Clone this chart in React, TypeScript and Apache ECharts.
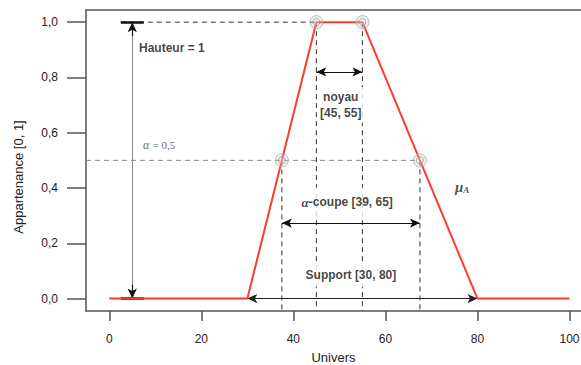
import React, { useEffect, useRef } from "react";
import * as echarts from "echarts";

// ---- data ----
const xTicks = [0, 20, 40, 60, 80, 100];
const yTicks = [0, 0.2, 0.4, 0.6, 0.8, 1.0];
const universX = [0, 30, 45, 55, 80, 100];
const membershipY = [0, 0, 1, 1, 0, 0];
const alphaLevel = 0.5;
const alphaCutX = [37.5, 67.5];
const coreX = [45, 55];
const supportX = [30, 80];
const heightX = 5;
const heightBarX = [2.5, 7.5];
const coreArrowY = 0.82;
const alphaArrowY = 0.273;
const supportArrowY = 0;

const X_MIN = -5.06;
const X_MAX = 102.5;
const Y_MIN = -0.045;
const Y_MAX = 1.044;

const SANS = "'Liberation Sans', Arial, Helvetica, sans-serif";
const SERIF = "'Liberation Serif', 'Times New Roman', serif";

function dashed(name: string, pts: number[][], color: string) {
  return {
    name,
    type: "line",
    data: pts,
    symbol: "none",
    silent: true,
    z: 3,
    lineStyle: { color, width: 1, type: [5, 4] },
  };
}

function arrow(x1: number, y1: number, x2: number, y2: number, color: string, s1 = "arrow", s2 = "arrow") {
  return [
    { coord: [x1, y1], symbol: s1, lineStyle: { color, width: 1.2, type: "solid" }, itemStyle: { color } },
    { coord: [x2, y2], symbol: s2 },
  ];
}

export default function App() {
  const ref = useRef<HTMLDivElement>(null);
  useEffect(() => {
    if (!ref.current) return;
    const chart = echarts.init(ref.current, null, { renderer: "svg" });
    const labelBase = {
      show: true,
      color: "#111",
      fontFamily: SANS,
      fontWeight: "bold",
      fontSize: 12,
    };
    const option: any = {
      animation: false,
      grid: { left: 86, top: 10, right: 0, bottom: 54, containLabel: false, outerBoundsMode: "none" },
      xAxis: [
        {
          type: "value",
          min: X_MIN,
          max: X_MAX,
          name: "Univers",
          nameLocation: "middle",
          nameGap: 40,
          nameTextStyle: { fontFamily: SANS, fontSize: 13, color: "#222" },
          axisLine: { show: true, onZero: false, lineStyle: { color: "#555", width: 1.5 } },
          axisTick: { show: true, length: 10, customValues: xTicks, lineStyle: { color: "#555", width: 1.5 } },
          axisLabel: { customValues: xTicks, margin: 22, fontFamily: SANS, fontSize: 12, color: "#222" },
          splitLine: { show: false },
        },
        {
          type: "value",
          position: "top",
          min: X_MIN,
          max: X_MAX,
          axisLine: { show: true, onZero: false, lineStyle: { color: "#555", width: 1.5 } },
          axisTick: { show: false },
          axisLabel: { show: false },
          splitLine: { show: false },
        },
      ],
      yAxis: {
        type: "value",
        min: Y_MIN,
        max: Y_MAX,
        axisLine: { show: true, onZero: false, lineStyle: { color: "#555", width: 1.5 } },
        axisTick: { show: true, length: 19, customValues: yTicks, lineStyle: { color: "#555", width: 1.5 } },
        axisLabel: {
          customValues: yTicks,
          margin: 28,
          fontFamily: SANS,
          fontSize: 12,
          color: "#222",
          formatter: (v: number) => v.toFixed(1).replace(".", ","),
        },
        splitLine: { show: false },
      },
      graphic: [
        {
          type: "text",
          x: 18,
          y: 177,
          rotation: Math.PI / 2,
          style: {
            text: "Appartenance [0, 1]",
            fontFamily: SANS,
            fontSize: 13,
            fill: "#222",
            align: "center",
            verticalAlign: "middle",
          },
        },
      ],
      series: [
        dashed("alpha-level", [[X_MIN, alphaLevel], [alphaCutX[1], alphaLevel]], "#888"),
        dashed("height-level", [[heightBarX[0], 1], [coreX[0], 1]], "#333"),
        dashed("core-left", [[coreX[0], 1], [coreX[0], Y_MIN]], "#333"),
        dashed("core-right", [[coreX[1], 1], [coreX[1], Y_MIN]], "#333"),
        dashed("cut-left", [[alphaCutX[0], alphaLevel], [alphaCutX[0], Y_MIN]], "#333"),
        dashed("cut-right", [[alphaCutX[1], alphaLevel], [alphaCutX[1], Y_MIN]], "#333"),
        {
          name: "membership",
          type: "line",
          data: universX.map((x, i) => [x, membershipY[i]]),
          symbol: "none",
          z: 5,
          lineStyle: { color: "#ff3b30", width: 2 },
        },
        {
          name: "annotations",
          type: "line",
          data: [],
          z: 6,
          silent: true,
          markLine: {
            silent: true,
            animation: false,
            symbol: ["arrow", "arrow"],
            symbolSize: [7, 10],
            label: { show: false },
            data: [
              [
                { coord: [heightX, 0], symbol: "none", lineStyle: { color: "#888", width: 1, type: "solid" } },
                { coord: [heightX, 1], symbol: "none" },
              ],
              arrow(heightX, 0.95, heightX, 1, "#111", "none", "arrow"),
              arrow(heightX, 0.05, heightX, 0, "#111", "none", "arrow"),
              [
                { coord: [heightBarX[0], 1], symbol: "none", lineStyle: { color: "#111", width: 2.5, type: "solid" } },
                { coord: [heightBarX[1], 1], symbol: "none" },
              ],
              [
                { coord: [heightBarX[0], 0], symbol: "none", lineStyle: { color: "#111", width: 2.5, type: "solid" } },
                { coord: [heightBarX[1], 0], symbol: "none" },
              ],
              arrow(coreX[0], coreArrowY, coreX[1], coreArrowY, "#111"),
              arrow(alphaCutX[0], alphaArrowY, alphaCutX[1], alphaArrowY, "#111"),
              arrow(supportX[0], supportArrowY, supportX[1], supportArrowY, "#222"),
            ],
          },
        },
        {
          name: "rings-outer",
          type: "scatter",
          z: 7,
          silent: true,
          symbol: "circle",
          symbolSize: 13,
          data: [[coreX[0], 1], [coreX[1], 1], [alphaCutX[0], alphaLevel], [alphaCutX[1], alphaLevel]],
          itemStyle: { color: "rgba(200,200,200,0.35)", borderColor: "#aaa", borderWidth: 1 },
        },
        {
          name: "rings-inner",
          type: "scatter",
          z: 8,
          silent: true,
          symbol: "circle",
          symbolSize: 7,
          data: [[coreX[0], 1], [coreX[1], 1], [alphaCutX[0], alphaLevel], [alphaCutX[1], alphaLevel]],
          itemStyle: { color: "rgba(255,255,255,0.2)", borderColor: "#999", borderWidth: 1 },
        },
        {
          name: "labels",
          type: "scatter",
          z: 10,
          silent: true,
          symbolSize: 0,
          itemStyle: { color: "transparent" },
          data: [
            {
              value: [6.45, 0.906],
              label: { ...labelBase, position: "right", distance: 0, formatter: "Hauteur = 1" },
            },
            {
              value: [7.3, 0.556],
              label: {
                show: true,
                position: "right",
                distance: 0,
                formatter: "{a|α} {b|= 0,5}",
                rich: {
                  a: { fontFamily: SERIF, fontStyle: "italic", fontSize: 12, color: "#444" },
                  b: { fontFamily: SERIF, fontSize: 11, color: "#444" },
                },
              },
            },
            {
              value: [50.3, 0.7],
              label: {
                ...labelBase,
                position: "inside",
                formatter: "noyau\n[45, 55]",
                lineHeight: 16,
                align: "center",
                backgroundColor: "#fff",
                padding: [2, 2],
              },
            },
            {
              value: [51.7, 0.349],
              label: {
                show: true,
                position: "inside",
                backgroundColor: "#fff",
                padding: [8, 4],
                formatter: "{a|α}{b|-coupe [39, 65]}",
                rich: {
                  a: { fontFamily: SERIF, fontStyle: "italic", fontWeight: "bold", fontSize: 13, color: "#111" },
                  b: { fontFamily: SANS, fontWeight: "bold", fontSize: 12, color: "#111" },
                },
              },
            },
            {
              value: [52.5, 0.085],
              label: {
                ...labelBase,
                position: "inside",
                formatter: "Support [30, 80]",
                backgroundColor: "#fff",
                padding: [6, 4],
              },
            },
            {
              value: [75.1, 0.403],
              label: {
                show: true,
                position: "right",
                distance: 0,
                formatter: "{a|μ}{b|A}",
                rich: {
                  a: { fontFamily: SERIF, fontStyle: "italic", fontWeight: "bold", fontSize: 15, color: "#222" },
                  b: { fontFamily: SERIF, fontStyle: "italic", fontWeight: "bold", fontSize: 9, color: "#222", padding: [6, 0, 0, 0] },
                },
              },
            },
          ],
        },
      ],
    };
    chart.setOption(option);
    return () => chart.dispose();
  }, []);
  return (
    <div
      ref={ref}
      style={{ position: "fixed", left: 0, top: 0, width: 581, height: 365, background: "#fff" }}
    />
  );
}
